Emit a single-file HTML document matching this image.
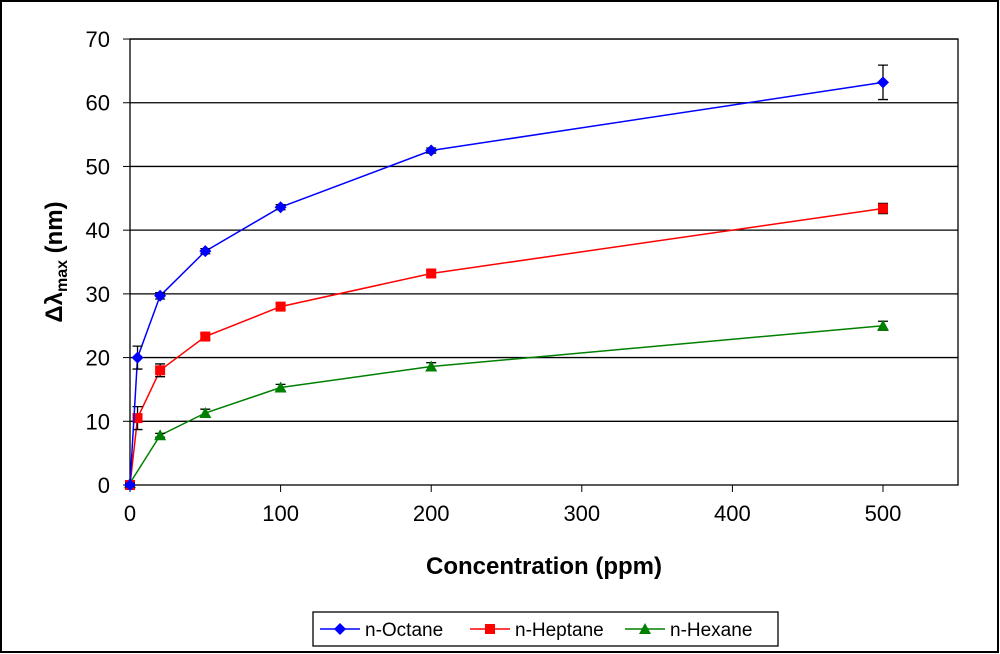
<!DOCTYPE html>
<html><head><meta charset="utf-8"><style>
body{margin:0;background:#fff;}
svg{display:block;font-family:"Liberation Sans",sans-serif;}
</style></head><body>
<svg id="c" width="1000" height="654">
<rect x="1" y="1" width="997" height="651" fill="#fff" stroke="#000" stroke-width="2"/>
</svg>
<script>
const xs=[0,5,20,50,100,200,500];
const octane=[0,20,29.7,36.7,43.6,52.5,63.2];
const octaneErr=[0.3,1.8,0.5,0.4,0.4,0.4,2.7];
const heptane=[0,10.5,18,23.3,28,33.2,43.4];
const heptaneErr=[0.3,1.8,1.0,0.4,0.5,0.5,0.8];
const hexX=[0,20,50,100,200,500];
const hexane=[0.3,7.8,11.3,15.3,18.6,25];
const hexaneErr=[0.3,0.3,0.6,0.5,0.6,0.7];
const yTicks=[0,10,20,30,40,50,60,70];
const xTicks=[0,100,200,300,400,500];
const NS='http://www.w3.org/2000/svg';
const svg=document.getElementById('c');
const X=v=>130+v*1.506, Y=v=>485-v*6.371;
function el(t,a,p){const e=document.createElementNS(NS,t);for(const k in a)e.setAttribute(k,a[k]);(p||svg).appendChild(e);return e;}
// gridlines
yTicks.forEach(t=>{if(t>0){const g=el('line',{x1:130,x2:958,y1:Y(t),y2:Y(t),stroke:'#000','stroke-width':1.3});

}
const tk=el('line',{x1:123,x2:130,y1:Y(t),y2:Y(t),stroke:'#000'});
const lb=el('text',{x:110,y:Y(t)+8,'text-anchor':'end','font-size':22});lb.textContent=t;

});
el('rect',{x:130,y:Y(70),width:828,height:Y(0)-Y(70),fill:'none',stroke:'#000','stroke-width':1.3});
xTicks.forEach(t=>{el('line',{x1:X(t),x2:X(t),y1:485,y2:492,stroke:'#000'});
const lb=el('text',{x:X(t),y:521,'text-anchor':'middle','font-size':22});lb.textContent=t;

});
const xt=el('text',{x:544,y:574,'text-anchor':'middle','font-size':24,'font-weight':'bold'});xt.textContent='Concentration (ppm)';


const yt=el('text',{transform:'translate(62,262) rotate(-90)','text-anchor':'middle','font-size':24,'font-weight':'bold'});
yt.innerHTML='Δλ<tspan font-size="16" dy="5">max</tspan><tspan dy="-5"> (nm)</tspan>';


function marker(x,y,shape,color,g){
 if(shape==='d')el('path',{d:`M${x} ${y-6}L${x+6} ${y}L${x} ${y+6}L${x-6} ${y}Z`,fill:color},g);
 else if(shape==='s')el('rect',{x:x-5,y:y-5,width:10,height:10,fill:color},g);
 else el('path',{d:`M${x} ${y-6}L${x+6} ${y+5}L${x-6} ${y+5}Z`,fill:color},g);
}
function series(name,xv,yv,ev,color,shape){
 const g=el('g',{});
 el('polyline',{points:xv.map((x,i)=>X(x)+','+Y(yv[i])).join(' '),fill:'none',stroke:color,'stroke-width':1.5},g);
 xv.forEach((x,i)=>{const cx=X(x),t=Y(yv[i]+ev[i]),b=Y(yv[i]-ev[i]);
  el('path',{d:`M${cx} ${t}V${b}M${cx-5} ${t}H${cx+5}M${cx-5} ${b}H${cx+5}`,stroke:'#000','stroke-width':1.3,fill:'none'},g);
  marker(cx,Y(yv[i]),shape,color,g);});
}
series('n-hexane',hexX,hexane,hexaneErr,'#008000','t');
series('n-heptane',xs,heptane,heptaneErr,'#ff0000','s');
series('n-octane',xs,octane,octaneErr,'#0000ff','d');
// legend
const lg=el('g',{});
el('rect',{x:313,y:612,width:465,height:34,fill:'#fff',stroke:'#000','stroke-width':1.3},lg);
[['n-Octane','#0000ff','d',320],['n-Heptane','#ff0000','s',470],['n-Hexane','#008000','t',625]].forEach(([n,c,s,x])=>{
 const e=el('g',{},lg);
 el('line',{x1:x,x2:x+40,y1:629,y2:629,stroke:c,'stroke-width':1.5},e);marker(x+20,629,s,c,e);
 const t=el('text',{x:x+45,y:636,'font-size':19},e);t.textContent=n;});
</script>
</body></html>
